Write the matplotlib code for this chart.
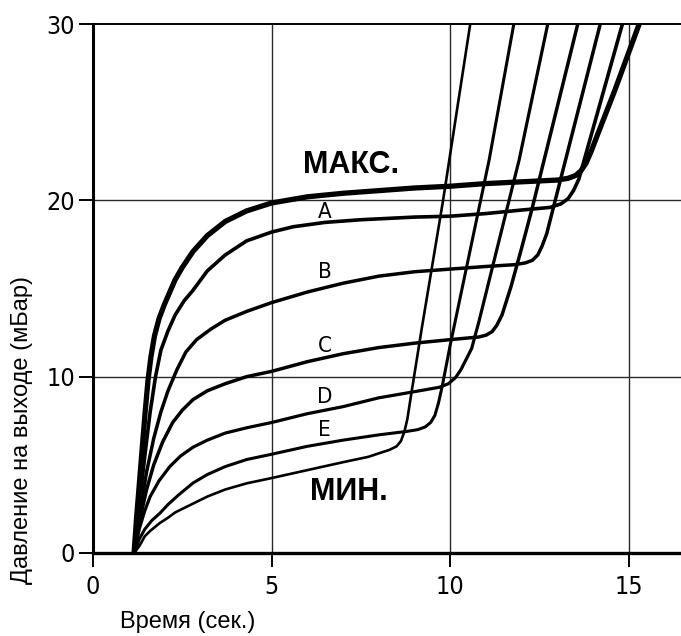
import matplotlib
matplotlib.use("Agg")
import matplotlib.pyplot as plt

# ── Data ─────────────────────────────────────────────────────────────────────
t_max = [1.15, 1.22, 1.3, 1.38, 1.46, 1.54, 1.62, 1.72, 1.85, 2.0, 2.15, 2.3, 2.5,
         2.8, 3.2, 3.7, 4.3, 5.0, 6.0, 7.0, 8.0, 9.0, 10.0, 11.0, 12.0, 13.0,
         13.3, 13.5, 13.65, 13.8, 13.95, 14.1, 14.6, 15.29]
p_max = [0, 2, 4, 6, 8, 9.8, 11.1, 12.3, 13.3, 14.1, 14.8, 15.5, 16.2,
         17.1, 18.0, 18.8, 19.4, 19.85, 20.2, 20.4, 20.55, 20.7, 20.8, 20.95, 21.05, 21.15,
         21.25, 21.4, 21.65, 22.1, 22.8, 23.6, 26.2, 30]

t_a = [1.15, 1.3, 1.45, 1.6, 1.75, 1.9, 2.1, 2.3, 2.55, 2.8, 3.2, 3.7, 4.3, 5.0,
       5.6, 6.5, 7.5, 9.0, 10.0, 11.0, 12.0, 12.8, 13.1, 13.3, 13.45, 13.6, 14.82]
p_a = [0, 2.8, 5.5, 8.0, 10.0, 11.5, 12.6, 13.5, 14.3, 14.9, 16.0, 16.9, 17.7, 18.2,
       18.5, 18.75, 18.9, 19.05, 19.1, 19.25, 19.45, 19.6, 19.8, 20.1, 20.55, 21.2, 30]

t_b = [1.15, 1.3, 1.5, 1.7, 1.9, 2.1, 2.35, 2.6, 2.9, 3.3, 3.7, 4.3, 5.0, 6.0, 7.0,
       8.0, 9.0, 10.0, 11.0, 11.8, 12.1, 12.3, 12.45, 12.57, 12.7, 14.2]
p_b = [0, 2.2, 4.6, 6.5, 8.0, 9.2, 10.4, 11.4, 12.1, 12.7, 13.2, 13.7, 14.2, 14.8, 15.3,
       15.7, 15.95, 16.1, 16.25, 16.35, 16.45, 16.6, 16.9, 17.4, 18.1, 30]

t_c = [1.15, 1.3, 1.5, 1.7, 1.95, 2.23, 2.5, 2.8, 3.2, 3.7, 4.3, 5.0, 6.0, 7.0, 8.0,
       9.0, 10.0, 10.8, 11.0, 11.17, 11.3, 11.45, 11.7, 12.0, 12.3, 13.57]
p_c = [0, 1.8, 3.6, 5.0, 6.3, 7.4, 8.1, 8.7, 9.2, 9.6, 10.0, 10.3, 10.85, 11.3, 11.65,
       11.9, 12.1, 12.25, 12.35, 12.55, 12.9, 13.5, 15.1, 17.3, 19.6, 30]

t_d = [1.15, 1.3, 1.45, 1.6, 1.85, 2.15, 2.45, 2.8, 3.2, 3.7, 4.3, 5.0, 6.0, 7.0,
       8.0, 9.0, 9.7, 9.95, 10.15, 10.3, 10.45, 10.6, 10.8, 11.93, 12.73]
p_d = [0, 1.4, 2.4, 3.2, 4.1, 4.9, 5.5, 6.0, 6.4, 6.8, 7.1, 7.4, 7.9, 8.3,
       8.8, 9.15, 9.4, 9.6, 9.95, 10.4, 11.0, 11.6, 13.1, 22.3, 30]

t_e = [1.15, 1.3, 1.45, 1.65, 1.87, 2.1, 2.4, 2.8, 3.2, 3.7, 4.3, 5.0, 6.0, 7.0, 8.0,
       8.8, 9.1, 9.3, 9.45, 9.57, 9.67, 9.78, 10.0, 11.09, 11.78]
p_e = [0, 0.8, 1.35, 1.85, 2.25, 2.75, 3.3, 3.97, 4.45, 4.9, 5.3, 5.6, 6.05, 6.4, 6.7,
       6.9, 7.0, 7.15, 7.4, 7.8, 8.5, 9.5, 11.8, 22.3, 30]

t_min = [1.15, 1.3, 1.45, 1.6, 1.87, 2.1, 2.3, 2.8, 3.2, 3.7, 4.3, 5.0, 6.0, 7.0, 7.7,
         8.0, 8.3, 8.5, 8.62, 8.72, 8.8, 8.9, 9.2, 9.8, 10.56]
p_min = [0, 0.4, 0.95, 1.25, 1.7, 2.0, 2.3, 2.8, 3.2, 3.6, 3.95, 4.25, 4.7, 5.15, 5.45,
         5.65, 5.85, 6.05, 6.35, 6.9, 7.6, 8.9, 12.7, 20, 30]

curve_letters = ["A", "B", "C", "D", "E"]
letter_x = [6.49, 6.49, 6.49, 6.49, 6.47]
letter_y = [19.34, 15.94, 11.74, 8.85, 6.98]

x_ticks = [0, 5, 10, 15]
y_ticks = [0, 10, 20, 30]

NARROW = dict(family="DejaVu Sans", stretch="condensed")
SANS = ["Liberation Sans", "DejaVu Sans"]

fig = plt.figure(figsize=(6.81, 6.36), dpi=100)
ax = fig.add_axes([93 / 681, 83 / 636, 588 / 681, 529 / 636])

ax.set_xlim(0, 16.46)
ax.set_ylim(0, 30)

# grid
for xv in x_ticks[1:]:
    ax.axvline(xv, color="#2a2a2a", lw=1.0, zorder=1)
for yv in y_ticks[1:-1]:
    ax.axhline(yv, color="#2a2a2a", lw=1.0, zorder=1)

# curves
kw = dict(color="black", solid_joinstyle="round", solid_capstyle="butt", zorder=3)
ax.plot(t_max, p_max, lw=3.8, **kw)
ax.plot(t_a, p_a, lw=2.6, **kw)
ax.plot(t_b, p_b, lw=2.5, **kw)
ax.plot(t_c, p_c, lw=2.5, **kw)
ax.plot(t_d, p_d, lw=2.3, **kw)
ax.plot(t_e, p_e, lw=2.2, **kw)
ax.plot(t_min, p_min, lw=1.9, **kw)

# labels on curves
for lab, lx, ly in zip(curve_letters, letter_x, letter_y):
    ax.text(lx, ly, lab, ha="center", va="center", fontsize=16, **NARROW)
ax.text(7.22, 22.0, "МАКС.", ha="center", va="center", fontsize=22,
        fontweight="bold", family=SANS)
ax.text(7.16, 3.46, "МИН.", ha="center", va="center", fontsize=22,
        fontweight="bold", family=SANS)

# spines / ticks
ax.spines["right"].set_visible(False)
ax.spines["top"].set_linewidth(1.4)
ax.spines["left"].set_linewidth(2.2)
ax.spines["bottom"].set_linewidth(2.4)
ax.set_xticks(x_ticks)
ax.set_yticks(y_ticks)
ax.tick_params(axis="both", direction="out", length=10, width=1.4, labelsize=18)
ax.tick_params(axis="x", pad=6)
ax.tick_params(axis="y", pad=3)
for lbl in ax.get_xticklabels() + ax.get_yticklabels():
    lbl.set_family("DejaVu Sans")
    lbl.set_stretch("condensed")

fig.text(188 / 681, 1 - 622 / 636, "Время (сек.)", ha="center", va="center",
         fontsize=17, family=SANS)
fig.text(22 / 681, 1 - 430 / 636, "Давление на выходе (мБар)", ha="center",
         va="center", rotation=90, fontsize=17, family=SANS)

fig.savefig("out.png", dpi=100)
